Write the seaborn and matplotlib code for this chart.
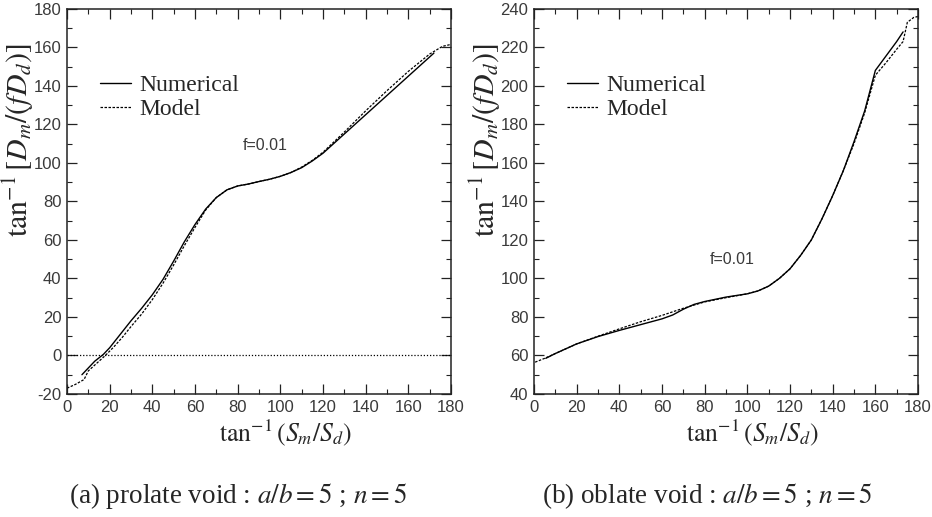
import numpy as np
import pandas as pd
import seaborn as sns
import matplotlib
matplotlib.use("Agg")
import matplotlib.pyplot as plt
from matplotlib.ticker import MultipleLocator

# (a) prolate void
prolate_num_x = [7, 10, 13, 17, 20, 25, 30, 35, 40, 45, 50, 55, 60, 65, 70, 75, 80, 85, 90, 95,
                 100, 105, 110, 115, 120, 130, 140, 150, 160, 172]
prolate_num_y = [-10, -6.5, -3, 0.5, 4, 11, 18, 24.5, 31.5, 39.5, 49, 59, 68, 76, 82, 86, 88, 89, 90.3, 91.5,
                 93, 95, 97.5, 101, 105, 115, 125, 135, 145, 157]
prolate_mod_x = [0, 4, 8, 10, 14, 18, 22, 26, 30, 35, 40, 45, 50, 55, 60, 65, 70, 75, 80, 85, 90, 95,
                 100, 105, 110, 115, 120, 130, 140, 150, 160, 170, 176, 180]
prolate_mod_y = [-17, -15, -12.5, -8, -4, 0, 4.5, 9.5, 15, 21.5, 29, 37.5, 47, 57, 66.5, 75.5, 82, 86, 88, 89, 90.3, 91.5,
                 93, 95, 97.8, 101.3, 105.5, 116, 127, 137.5, 147.5, 156.5, 160.5, 161.5]

# (b) oblate void
oblate_num_x = [5.5, 10, 15, 20, 30, 40, 50, 60, 65, 70, 75, 80, 90, 100, 105, 110, 115, 120, 125,
                130, 135, 140, 145, 150, 155, 160, 165, 170, 173]
oblate_num_y = [58.5, 61, 63.5, 66, 69.8, 73, 76, 79, 81, 84, 86.5, 88, 90.3, 92, 93.5, 96, 100, 105, 112,
                120, 131, 143, 156, 171, 187, 208, 215.5, 223, 228]
oblate_mod_x = [0.5, 5, 10, 20, 30, 40, 50, 60, 70, 80, 90, 100, 105, 110, 115, 120, 125, 130, 135,
                140, 145, 150, 155, 160, 165, 170, 173, 175, 178, 180]
oblate_mod_y = [56.5, 58.5, 61, 66, 70, 73.8, 77.5, 80.8, 84.5, 87.8, 90, 92, 93.5, 96, 100, 105, 112, 120, 131,
                143, 156, 170, 186, 205.5, 212, 219, 223, 233, 235.5, 236]

series_labels = ["Numerical", "Model"]
captions = [r"(a) prolate void : $a/b=5$ ; $n=5$", r"(b) oblate void : $a/b=5$ ; $n=5$"]

sns.set_style("ticks")
plt.rcParams["mathtext.fontset"] = "stix"
plt.rcParams["axes.unicode_minus"] = False
plt.rcParams["font.family"] = ["Liberation Serif", "DejaVu Serif"]
tick_font = ["Liberation Sans Narrow", "Liberation Sans", "DejaVu Sans"]

fig = plt.figure(figsize=(9.32, 5.17), dpi=100)
ax1 = fig.add_axes([0.0719, 0.238, 0.412, 0.745])
ax2 = fig.add_axes([0.573, 0.238, 0.412, 0.745])

panels = [
    (ax1, prolate_num_x, prolate_num_y, prolate_mod_x, prolate_mod_y, (-20, 180), (93, 109)),
    (ax2, oblate_num_x, oblate_num_y, oblate_mod_x, oblate_mod_y, (40, 240), (93, 110)),
]

for ax, nx, ny, mx, my, ylim, flabel in panels:
    num = pd.DataFrame({"x": nx, "y": ny})
    mod = pd.DataFrame({"x": mx, "y": my})
    sns.lineplot(data=num, x="x", y="y", ax=ax, color="black", lw=1.0, sort=False,
                 label=series_labels[0])
    sns.lineplot(data=mod, x="x", y="y", ax=ax, color="black", lw=0.9, sort=False,
                 linestyle=(0, (2, 1.2)), label=series_labels[1])
    ax.set_xlim(0, 180)
    ax.set_ylim(*ylim)
    ax.xaxis.set_major_locator(MultipleLocator(20))
    ax.xaxis.set_minor_locator(MultipleLocator(10))
    ax.yaxis.set_major_locator(MultipleLocator(20))
    ax.yaxis.set_minor_locator(MultipleLocator(10))
    ax.tick_params(which="both", direction="in", top=True, right=True, color="#222222", pad=4)
    ax.tick_params(which="major", length=7, width=0.9)
    ax.tick_params(which="minor", length=3.5, width=0.8)
    for lab in ax.get_xticklabels() + ax.get_yticklabels():
        lab.set_family(tick_font)
        lab.set_fontsize(12)
        lab.set_color("#3a3a3a")
    for sp in ax.spines.values():
        sp.set_linewidth(1.1)
        sp.set_color("#222222")
    ax.set_xlabel(r"$\tan^{-1}(S_m/S_d)$", fontsize=18.5)
    ax.xaxis.set_label_coords(0.57, -0.06)
    ax.set_ylabel(r"$\tan^{-1}[D_m/(fD_d)]$", fontsize=21.5)
    ax.yaxis.set_label_coords(-0.08, 0.66)
    ax.text(flabel[0], flabel[1], "f=0.01", family=tick_font,
            fontsize=11.5, color="#3a3a3a", ha="center", va="center")
    ax.legend(loc="upper left", bbox_to_anchor=(0.086, 0.83), frameon=False,
              fontsize=17, handlelength=1.3, handletextpad=0.35, labelspacing=0.13,
              borderaxespad=0, borderpad=0)

ax1.axhline(0, color="black", lw=0.9, linestyle=(0, (1, 1.5)))

fig.text(238 / 932, 1 - 496 / 517, captions[0], ha="center", va="center", fontsize=19.5)
fig.text(707 / 932, 1 - 496 / 517, captions[1], ha="center", va="center", fontsize=19.5)

fig.savefig("out.png", dpi=100)
